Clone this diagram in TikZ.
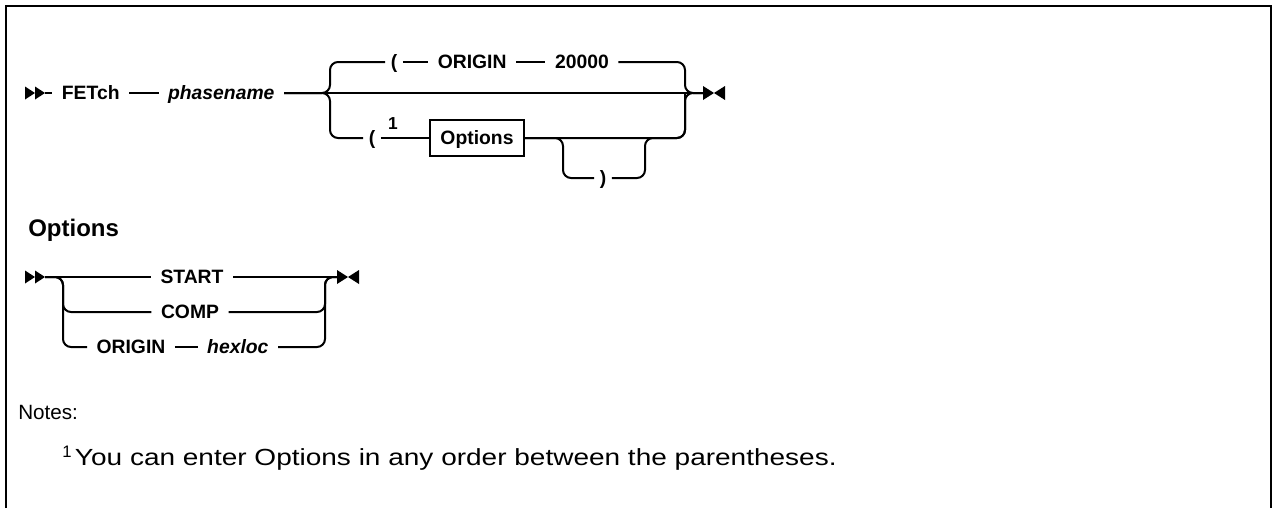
\documentclass[tikz,border=0pt]{standalone}
\usepackage{fontspec}
\setmainfont{Liberation Sans}
\newfontfamily\notefont[FakeStretch=1.2]{Liberation Sans}
\usetikzlibrary{positioning, calc}

\begin{document}
\begin{tikzpicture}[
        x=0.75pt, y=-0.75pt,
        node distance = 22pt,
        kw/.style = {inner xsep=7pt, inner ysep=0pt, text height=10.4pt, text depth=0pt, font=\fontsize{14.5}{17}\selectfont\bfseries},
        var/.style = {kw, font=\fontsize{14.5}{17}\selectfont\bfseries\itshape},
        par/.style = {kw, inner xsep=4pt},
        optbox/.style = {draw, line width=1.3pt, inner xsep=8pt, inner ysep=0pt, minimum height=27pt, text height=10.4pt, text depth=0pt, font=\fontsize{14.5}{17}\selectfont\bfseries},
        fn/.style = {inner sep=0pt, font=\fontsize{13}{15}\selectfont\bfseries},
        line/.style = {line width=1.5pt, rounded corners=6pt},
        head/.style = {inner sep=0pt, font=\fontsize{18}{21}\selectfont\bfseries},
        note/.style = {inner sep=0pt, font=\fontsize{15.5}{18}\selectfont},
        frame/.style = {line width=1.6pt},
        startmark/.pic = {\fill (-20,-6.5) -- (-10,0) -- (-20,6.5) -- cycle;
                          \fill (-10,-6.5) -- (0,0) -- (-10,6.5) -- cycle;},
        endmark/.pic = {\fill (0,-7) -- (11,0) -- (0,7) -- cycle;
                        \fill (22,-7) -- (11,0) -- (22,7) -- cycle;}
      ]
      \useasboundingbox (0,0) rectangle (1273,508);

      % frame
      \draw[frame] (6,508) -- (6,6) -- (1271,6) -- (1271,508);

      % ================= FETCH =================
      \coordinate (st1) at (45,93);
      \pic at (st1) {startmark};
      \node[kw, right=5.5pt of st1] (fetch) {FETch};
      \node[var, right=of fetch] (phase) {phasename};

      \coordinate (bl) at (330,93);
      \coordinate (br) at (685,93);
      \coordinate (endc1) at (703,93);
      \pic at (endc1) {endmark};

      % top row
      \node[par] (lp1) at (394,62) {(};
      \node[kw, right=19pt of lp1] (origin1) {ORIGIN};
      \node[kw, right=of origin1] (n20000) {20000};

      % bottom row
      \node[par] (lp2) at (372,138) {(};
      \node[fn] (fn1) at (393,124) {1};
      \node[optbox] (optbox) at (477,138) {Options};
      \coordinate (sb1) at (563,138);
      \coordinate (sb2) at (645,138);
      \node[par] (rp) at (603,178) {)};

      \draw[line] (st1) -- (fetch);
      \draw[line] (fetch) -- (phase);
      \draw[line] (phase) -- (endc1);
      \draw[line] (phase) -- (bl) |- (lp1);
      \draw[line] (lp1) -- (origin1);
      \draw[line] (origin1) -- (n20000);
      \draw[line] (n20000) -| (br) -- (endc1);
      \draw[line] (phase) -- (bl) |- (lp2);
      \draw[line] (lp2) -- (optbox);
      \draw[line] (optbox) -| (br) -- (endc1);
      \draw[line] (optbox) -- (sb1) |- (rp);
      \draw[line] (rp) -| (sb2) -| (br);

      % ================= OPTIONS =================
      \node[head, anchor=west] (opthead) at (28,230) {Options};

      \coordinate (st2) at (45,277);
      \pic at (st2) {startmark};
      \coordinate (ol) at (63,277);
      \coordinate (or) at (325,277);
      \coordinate (endc2) at (337,277);
      \pic at (endc2) {endmark};

      \node[kw] (start) at (192,277) {START};
      \node[kw] (comp) at (190,312) {COMP};
      \node[kw, anchor=west] (origin2) at (87,347) {ORIGIN};
      \node[var, right=17pt of origin2] (hexloc) {hexloc};

      \draw[line] (st2) -- (start);
      \draw[line] (start) -- (endc2);
      \draw[line] (st2) -- (ol) |- (comp);
      \draw[line] (st2) -- (ol) |- (origin2);
      \draw[line] (origin2) -- (hexloc);
      \draw[line] (comp) -| (or) -- (endc2);
      \draw[line] (hexloc) -| (or) -- (endc2);

      % ================= NOTES =================
      \node[note, anchor=west] (notes) at (18,412) {Notes:};
      \node[note, anchor=west] (note1) at (62,458) {\raisebox{6pt}{\fontsize{12.5}{13}\selectfont 1}\,{\notefont\fontsize{17.5}{20}\selectfont You can enter Options in any order between the parentheses.}};

    \end{tikzpicture}
\end{document}
